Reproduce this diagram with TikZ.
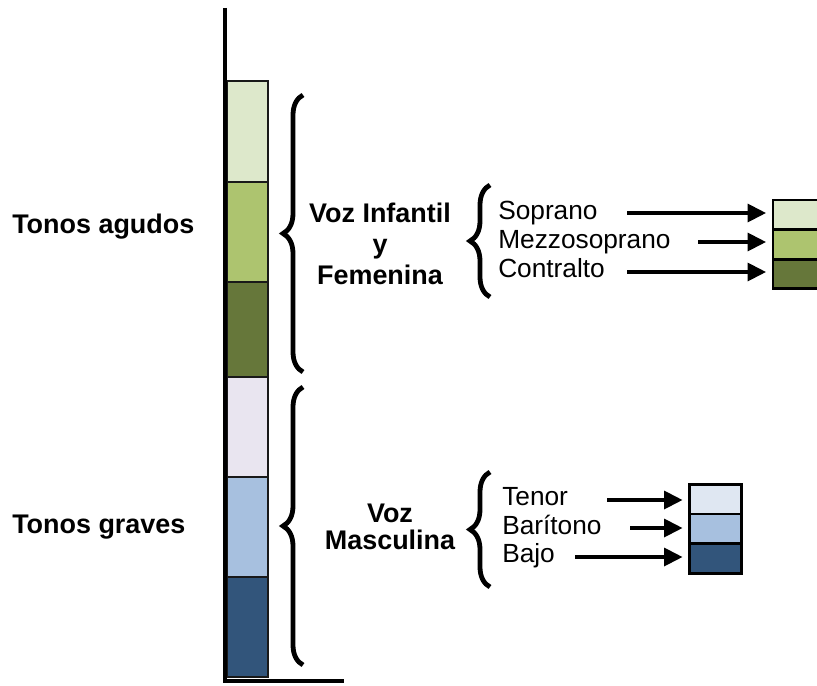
\documentclass[tikz,border=0pt]{standalone}
\usepackage{fontspec}
\setmainfont{Liberation Sans}
\usetikzlibrary{arrows.meta,decorations.pathreplacing,positioning}

\definecolor{verdeA}{HTML}{DDE8CB}
\definecolor{verdeB}{HTML}{ADC46F}
\definecolor{verdeC}{HTML}{66773A}
\definecolor{lilaA}{HTML}{E9E5F0}
\definecolor{azulA}{HTML}{DFE7F2}
\definecolor{azulB}{HTML}{A7C0DF}
\definecolor{azulC}{HTML}{32557B}

\tikzset{
  colbox/.style={draw=black!90, line width=1.3pt},
  tonebox/.style={draw=black, line width=2pt, inner sep=0pt, outer sep=0pt, minimum height=22.2pt},
  voicelbl/.style={font=\fontsize{19.7}{22}\selectfont, inner sep=0pt, anchor=base west},
  tonelbl/.style={font=\fontsize{20.2}{23}\selectfont\bfseries, inner sep=0pt, anchor=base west},
  grouplbl/.style={inner sep=0pt, align=center},
  bracket/.style={decorate, decoration={brace, amplitude=15pt}, line width=3.6pt},
  arr/.style={-{Triangle[length=14pt,width=13pt]}, line width=3.6pt, shorten >=5pt},
}

\begin{document}
\begin{tikzpicture}[x=0.75pt,y=-0.75pt]
\useasboundingbox (0,0) rectangle (817,685);
\fill[white] (0,0) rectangle (817,685);

% columna de tonos
\foreach \top/\bot/\col in {81/182/verdeA, 182/282/verdeB, 282/377/verdeC,
                            377/477/lilaA, 477/577/azulB, 577/677/azulC}
  \draw[colbox, fill=\col] (227,\top) rectangle (268,\bot);
\draw[line width=3.2pt] (225,8) -- (225,681);
\draw[line width=3.6pt] (223,681) -- (344,681);

\node[tonelbl] (agudos) at (12,233) {Tonos agudos};
\node[tonelbl] (graves) at (12,533) {Tonos graves};

% llaves
\draw[bracket] (303,372) -- (303,95);
\draw[bracket] (303,665) -- (303,387);
\draw[bracket] (490,297) -- (490,185);
\draw[bracket] (490,587) -- (490,472);

\node[grouplbl, font=\bfseries\fontsize{20.2}{23.2}\selectfont] (vozFem) at (380,244) {Voz Infantil\\y\\Femenina};
\node[grouplbl, font=\bfseries\fontsize{20.2}{19.8}\selectfont] (vozMasc) at (390,527) {Voz\\Masculina};

% voces femeninas
\node[voicelbl] (sop) at (498,219) {Soprano};
\node[voicelbl] (mez) at (498,248) {Mezzosoprano};
\node[voicelbl] (con) at (498,277) {Contralto};

\node[tonebox, fill=verdeA, minimum width=40pt, anchor=north west] (sopBox) at (773,200) {};
\node[tonebox, fill=verdeB, minimum width=40pt, below=0pt of sopBox] (mezBox) {};
\node[tonebox, fill=verdeC, minimum width=40pt, below=0pt of mezBox] (conBox) {};

\coordinate (sopS) at (627,213);
\coordinate (mezS) at (698,242);
\coordinate (conS) at (627,272);
\draw[arr] (sopS) -- (sopS -| sopBox.west);
\draw[arr] (mezS) -- (mezS -| mezBox.west);
\draw[arr] (conS) -- (conS -| conBox.west);

% voces masculinas
\node[voicelbl] (ten) at (502,505) {Tenor};
\node[voicelbl] (bar) at (502,534) {Barítono};
\node[voicelbl] (baj) at (502,562) {Bajo};

\node[tonebox, fill=azulA, minimum width=39pt, anchor=north west] (tenBox) at (689.5,484.5) {};
\node[tonebox, fill=azulB, minimum width=39pt, below=0pt of tenBox] (barBox) {};
\node[tonebox, fill=azulC, minimum width=39pt, below=0pt of barBox] (bajBox) {};

\coordinate (tenS) at (607,500);
\coordinate (barS) at (630,528);
\coordinate (bajS) at (575,557);
\draw[arr] (tenS) -- (tenS -| tenBox.west);
\draw[arr] (barS) -- (barS -| barBox.west);
\draw[arr] (bajS) -- (bajS -| bajBox.west);
\end{tikzpicture}
\end{document}
